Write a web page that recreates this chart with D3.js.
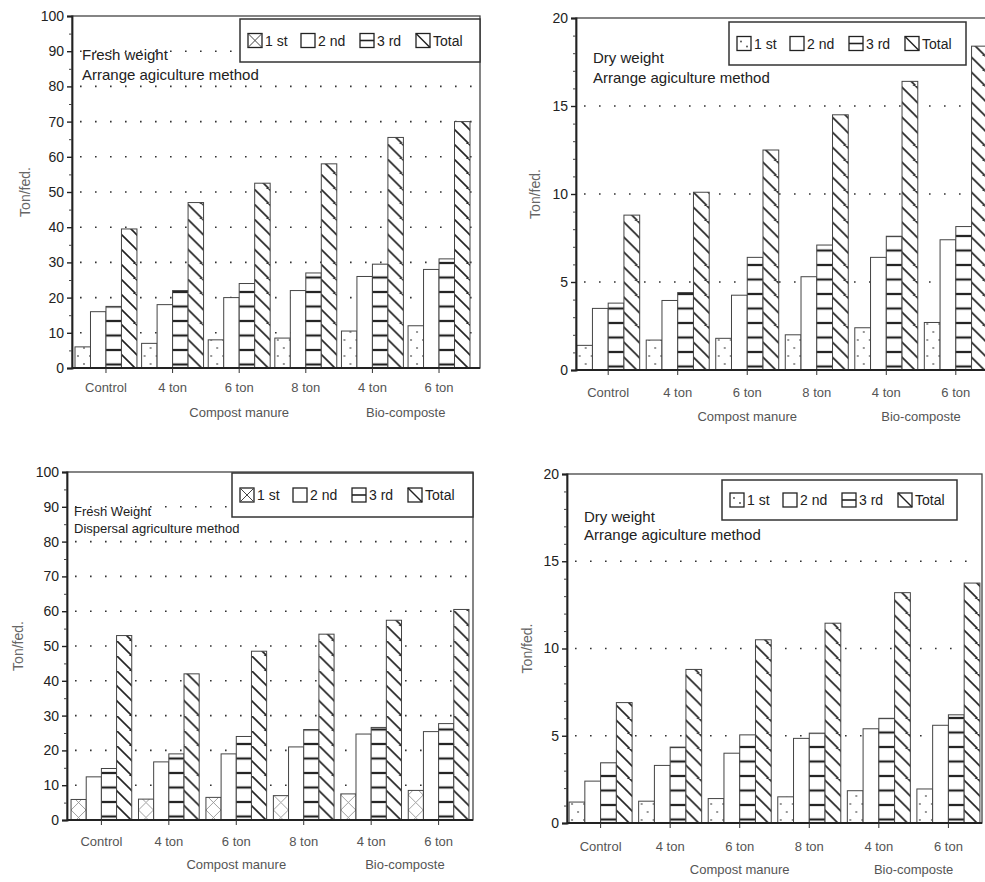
<!DOCTYPE html>
<html>
<head>
<meta charset="utf-8">
<script src="https://cdn.jsdelivr.net/npm/d3@7"></script>
<style>
  body { margin: 0; background: #fff; }
  svg { display: block; font-family: "Liberation Sans", Arial, sans-serif; }
</style>
</head>
<body>
<div id="chart"></div>
<script>
// categories and labels
const categories = ['Control', '4 ton', '6 ton', '8 ton', '4 ton', '6 ton'];
const seriesNames = ['1 st', '2 nd', '3 rd', 'Total'];
const groupNames = ['Compost manure', 'Bio-composte'];
const groupMembers = [[1, 2, 3], [4, 5]];

// tick values
const freshTicks = [0, 10, 20, 30, 40, 50, 60, 70, 80, 90, 100];
const freshMinor = [5, 15, 25, 35, 45, 55, 65, 75, 85, 95];
const dryTicks = [0, 5, 10, 15, 20];
const dryMinor = [1, 2, 3, 4, 6, 7, 8, 9, 11, 12, 13, 14, 16, 17, 18, 19];

// fresh weight, arrange method (top left)
const freshArrangeFirst = [6, 7, 8, 8.5, 10.5, 12];
const freshArrangeSecond = [16, 18, 20, 22, 26, 28];
const freshArrangeThird = [17.5, 22, 24, 27, 29.5, 31];
const freshArrangeTotal = [39.5, 47, 52.5, 58, 65.5, 70];

// dry weight, arrange method (top right)
const dryArrangeFirst = [1.4, 1.7, 1.8, 2.0, 2.4, 2.7];
const dryArrangeSecond = [3.5, 3.95, 4.25, 5.3, 6.4, 7.4];
const dryArrangeThird = [3.8, 4.4, 6.4, 7.1, 7.6, 8.15];
const dryArrangeTotal = [8.8, 10.1, 12.5, 14.5, 16.4, 18.4];

// fresh weight, dispersal method (bottom left)
const freshDispFirst = [5.9, 6, 6.5, 7, 7.5, 8.5];
const freshDispSecond = [12.4, 16.7, 19, 21, 24.7, 25.4];
const freshDispThird = [14.8, 19, 24, 26, 26.6, 27.7];
const freshDispTotal = [53, 42, 48.5, 53.4, 57.4, 60.5];

// dry weight, bottom right
const dryDispFirst = [1.2, 1.25, 1.4, 1.5, 1.85, 1.95];
const dryDispSecond = [2.4, 3.3, 4.0, 4.85, 5.4, 5.6];
const dryDispThird = [3.45, 4.35, 5.05, 5.15, 6.0, 6.2];
const dryDispTotal = [6.9, 8.8, 10.5, 11.45, 13.2, 13.75];

const W = 985, H = 882;
const svg = d3.select('#chart').append('svg')
    .attr('width', W).attr('height', H);
svg.append('rect').attr('width', W).attr('height', H).attr('fill', '#fff');
const defs = svg.append('defs');

// shared patterns
const dots = defs.append('pattern').attr('id', 'dots')
    .attr('patternUnits', 'userSpaceOnUse').attr('width', 12).attr('height', 16);
dots.append('rect').attr('width', 12).attr('height', 16).attr('fill', '#fff');
dots.append('circle').attr('cx', 3).attr('cy', 4).attr('r', 0.9).attr('fill', '#666');
dots.append('circle').attr('cx', 9).attr('cy', 12).attr('r', 0.9).attr('fill', '#666');

const cross = defs.append('pattern').attr('id', 'cross')
    .attr('patternUnits', 'userSpaceOnUse').attr('width', 15).attr('height', 15);
cross.append('rect').attr('width', 15).attr('height', 15).attr('fill', '#fff');
cross.append('path').attr('d', 'M0,0L15,15M15,0L0,15')
    .attr('stroke', '#888').attr('stroke-width', 0.8);

const panels = [
    { key: 'p1', left: 73, right: 472, axisX: 72, frameRight: 480, top: 16, bottom: 368,
      padIn: 0.07, padOut: 0.03, max: 100, ticks: freshTicks, minor: freshMinor,
      firstFill: 'dots', legendCross: true,
      series: [freshArrangeFirst, freshArrangeSecond, freshArrangeThird, freshArrangeTotal],
      legend: { x: 240, y: 19, w: 240, h: 43 },
      notes: ['Fresh weight', 'Arrange agiculture method'], noteX: 82, noteY: [60, 80], noteSize: 15,
      ylabX: 25, catY: 392, grpY: 417 },
    { key: 'p2', left: 576, right: 988, axisX: 576, frameRight: 992, top: 18, bottom: 370,
      padIn: 0.094, padOut: 0.01, max: 20, ticks: dryTicks, minor: dryMinor,
      firstFill: 'dots', legendCross: false,
      series: [dryArrangeFirst, dryArrangeSecond, dryArrangeThird, dryArrangeTotal],
      legend: { x: 729, y: 22, w: 237, h: 43 },
      notes: ['Dry weight', 'Arrange agiculture method'], noteX: 593, noteY: [63, 83], noteSize: 15,
      ylabX: 535, catY: 397, grpY: 421 },
    { key: 'p3', left: 67, right: 473, axisX: 67, frameRight: 473, top: 472, bottom: 820,
      padIn: 0.1, padOut: 0.06, max: 100, ticks: freshTicks, minor: freshMinor,
      firstFill: 'cross', legendCross: true,
      series: [freshDispFirst, freshDispSecond, freshDispThird, freshDispTotal],
      legend: { x: 232, y: 473, w: 241, h: 44 },
      notes: ['Fresh Weight', 'Dispersal agriculture method'], noteX: 74, noteY: [516, 533], noteSize: 13,
      ylabX: 18, catY: 846, grpY: 869 },
    { key: 'p4', left: 567, right: 982, axisX: 567, frameRight: 982, top: 474, bottom: 823,
      padIn: 0.094, padOut: 0.03, max: 20, ticks: dryTicks, minor: dryMinor,
      firstFill: 'dots', legendCross: false,
      series: [dryDispFirst, dryDispSecond, dryDispThird, dryDispTotal],
      legend: { x: 722, y: 480, w: 235, h: 40 },
      notes: ['Dry weight', 'Arrange agiculture method'], noteX: 584, noteY: [522, 540], noteSize: 15,
      ylabX: 527, catY: 851, grpY: 874 }
];

panels.forEach(p => drawPanel(p));

function drawPanel(p) {
    // per-panel patterns so the hatch lines start at the baseline
    const hl = defs.append('pattern').attr('id', 'hl-' + p.key)
        .attr('patternUnits', 'userSpaceOnUse').attr('width', 10).attr('height', 14.5)
        .attr('y', p.bottom - 3.5);
    hl.append('rect').attr('width', 10).attr('height', 14.5).attr('fill', '#fff');
    hl.append('line').attr('x1', 0).attr('x2', 10).attr('y1', 0).attr('y2', 0)
        .attr('stroke', '#222').attr('stroke-width', 2.2);
    hl.append('line').attr('x1', 0).attr('x2', 10).attr('y1', 14.5).attr('y2', 14.5)
        .attr('stroke', '#222').attr('stroke-width', 2.2);

    const dg = defs.append('pattern').attr('id', 'dg-' + p.key)
        .attr('patternUnits', 'userSpaceOnUse').attr('width', 15).attr('height', 15)
        .attr('y', p.bottom);
    dg.append('rect').attr('width', 15).attr('height', 15).attr('fill', '#fff');
    dg.append('path').attr('d', 'M0,0L15,15M-3,12L3,18M12,-3L18,3')
        .attr('stroke', '#222').attr('stroke-width', 1.6);

    const fills = ['url(#' + p.firstFill + ')', '#fff', 'url(#hl-' + p.key + ')', 'url(#dg-' + p.key + ')'];

    const y = d3.scaleLinear().domain([0, p.max]).range([p.bottom, p.top]);
    const x0 = d3.scaleBand().domain(d3.range(categories.length))
        .range([p.left, p.right]).paddingInner(p.padIn).paddingOuter(p.padOut);
    const x1 = d3.scaleBand().domain(d3.range(seriesNames.length)).range([0, x0.bandwidth()]);

    const g = svg.append('g');

    // dotted grid lines
    g.selectAll('.grid').data(p.ticks.slice(1, -1)).enter().append('line')
        .attr('x1', p.axisX + 8).attr('x2', p.frameRight - 2)
        .attr('y1', d => y(d)).attr('y2', d => y(d))
        .attr('stroke', '#333').attr('stroke-width', 1.6)
        .attr('stroke-dasharray', '1.6,13.4');

    // frame
    g.append('rect').attr('x', p.axisX).attr('y', p.top)
        .attr('width', p.frameRight - p.axisX).attr('height', p.bottom - p.top)
        .attr('fill', 'none').attr('stroke', '#444').attr('stroke-width', 1.3);

    // bars
    const groups = g.selectAll('.grp').data(categories).enter().append('g')
        .attr('transform', (d, i) => `translate(${x0(i)},0)`);
    groups.selectAll('rect').data((d, i) => p.series.map((s, k) => ({ k, v: s[i] })))
        .enter().append('rect')
        .attr('x', d => x1(d.k))
        .attr('y', d => y(d.v))
        .attr('width', x1.bandwidth())
        .attr('height', d => y(0) - y(d.v))
        .attr('fill', d => fills[d.k])
        .attr('stroke', '#444').attr('stroke-width', 1);

    // y axis
    const yAxis = g.append('g').attr('transform', `translate(${p.axisX},0)`)
        .call(d3.axisLeft(y).tickValues(p.ticks).tickSize(5).tickPadding(3));
    yAxis.select('.domain').attr('stroke', '#222').attr('stroke-width', 1.8);
    yAxis.selectAll('line').attr('stroke', '#222').attr('stroke-width', 1.4);
    yAxis.selectAll('text').attr('font-size', 14).attr('fill', '#222')
        .attr('font-family', '"Liberation Sans", Arial, sans-serif');
    g.append('g').attr('transform', `translate(${p.axisX},0)`)
        .call(d3.axisLeft(y).tickValues(p.minor).tickSize(3).tickFormat(''))
        .call(a => a.select('.domain').remove())
        .selectAll('line').attr('stroke', '#444');

    // baseline
    g.append('line').attr('x1', p.axisX).attr('x2', p.frameRight)
        .attr('y1', p.bottom).attr('y2', p.bottom)
        .attr('stroke', '#222').attr('stroke-width', 1.8);

    // x axis
    const xAxis = g.append('g').attr('transform', `translate(0,${p.bottom})`)
        .call(d3.axisBottom(x0).tickSize(5).tickPadding(p.catY - p.bottom - 14)
            .tickFormat(i => categories[i]));
    xAxis.select('.domain').remove();
    xAxis.selectAll('line').attr('stroke', '#333');
    xAxis.selectAll('text').attr('font-size', 13).attr('fill', '#555')
        .attr('font-family', '"Liberation Sans", Arial, sans-serif');

    // group labels
    g.selectAll('.glab').data(groupNames).enter().append('text')
        .attr('x', (d, j) => d3.mean(groupMembers[j], i => x0(i) + x0.bandwidth() / 2))
        .attr('y', p.grpY)
        .attr('text-anchor', 'middle').attr('font-size', 13).attr('fill', '#555')
        .text(d => d);

    // y label
    g.append('text')
        .attr('transform', `translate(${p.ylabX},${(p.top + p.bottom) / 2}) rotate(-90)`)
        .attr('text-anchor', 'middle').attr('dy', '0.35em')
        .attr('font-size', 14).attr('fill', '#666')
        .text('Ton/fed.');

    // notes
    g.selectAll('.note').data(p.notes).enter().append('text')
        .attr('x', p.noteX).attr('y', (d, i) => p.noteY[i])
        .attr('font-size', p.noteSize).attr('fill', '#222')
        .text(d => d);

    // legend
    const L = p.legend;
    const lg = g.append('g').attr('transform', `translate(${L.x},${L.y})`);
    lg.append('rect').attr('width', L.w).attr('height', L.h)
        .attr('fill', '#fff').attr('stroke', '#333').attr('stroke-width', 1.5);
    const offsets = [0, 53, 112, 168];
    seriesNames.forEach((name, k) => {
        const it = lg.append('g').attr('transform', `translate(${8 + offsets[k]},${L.h / 2 - 7})`);
        it.append('rect').attr('width', 14).attr('height', 14)
            .attr('fill', '#fff').attr('stroke', '#222').attr('stroke-width', 1.3);
        if (k === 0) {
            if (p.legendCross) {
                it.append('path').attr('d', 'M0,0L14,14M14,0L0,14').attr('stroke', '#444').attr('stroke-width', 1);
            } else {
                it.append('circle').attr('cx', 4).attr('cy', 5).attr('r', 0.9).attr('fill', '#444');
                it.append('circle').attr('cx', 10).attr('cy', 10).attr('r', 0.9).attr('fill', '#444');
            }
        } else if (k === 2) {
            it.append('line').attr('x1', 0).attr('x2', 14).attr('y1', 7).attr('y2', 7)
                .attr('stroke', '#222').attr('stroke-width', 1.6);
        } else if (k === 3) {
            it.append('line').attr('x1', 0).attr('x2', 14).attr('y1', 0).attr('y2', 14)
                .attr('stroke', '#222').attr('stroke-width', 1.4);
        }
        it.append('text').attr('x', 17).attr('y', 12)
            .attr('font-size', 14).attr('fill', '#222').text(name);
    });
}
</script>
</body>
</html>
